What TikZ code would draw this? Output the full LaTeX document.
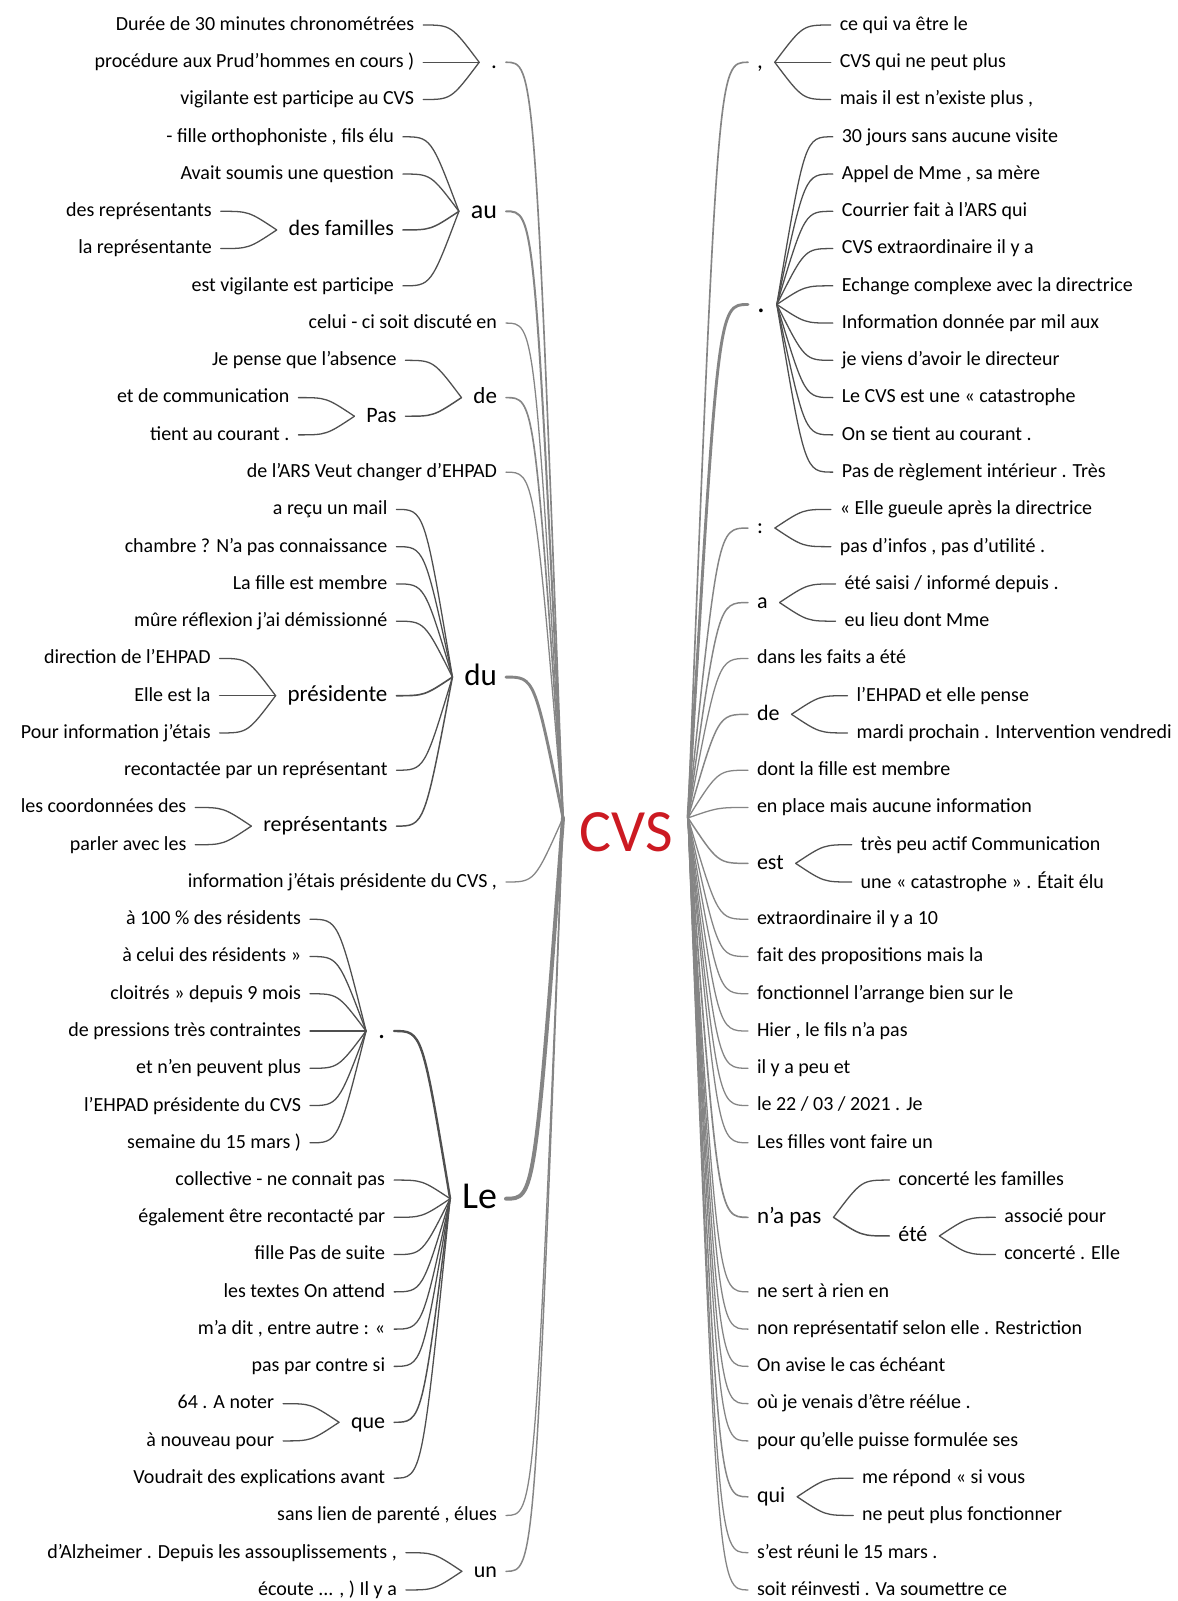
\documentclass[tikz,border=0pt]{standalone}
\usepackage{fontspec}
\setmainfont{Carlito}
\usetikzlibrary{calc}
\definecolor{cvsred}{HTML}{CC1A22}
\definecolor{rootgray}{HTML}{858585}
\definecolor{twiggray}{HTML}{4F4F4F}

\tikzset{
  wd/.style={inner sep=0pt, outer sep=0pt, font=\fontsize{#1}{#1}\selectfont,
             execute at begin node={\vphantom{dp}}},
  lw/.style={wd=#1, anchor=east}, lw/.default=20,
  rw/.style={wd=#1, anchor=west}, rw/.default=20,
  twig/.style={draw=twiggray, line width={(1.1+0.18*#1)*1pt}, line cap=round},
  trunk/.style={draw=rootgray, line width={(1.1+0.18*#1)*1pt}, line cap=round},
}

% child -> parent links (left side: child east to parent west; right side mirrored)
\newcommand\lnkL[3]{\draw[twig=#1] let \p1=([xshift=9pt]#2.east), \p2=([xshift=-12pt]#3.west) in (\p1) .. controls ({(\x1+\x2)/2},\y1) .. (\p2);}
\newcommand\lnkR[3]{\draw[twig=#1] let \p1=([xshift=-9pt]#2.west), \p2=([xshift=12pt]#3.east) in (\p1) .. controls ({(\x1+\x2)/2},\y1) .. (\p2);}
\newcommand\rtL[2]{\draw[trunk=#1] let \p1=([xshift=9pt]#2.east), \p2=(rootL) in (\p1) .. controls ({(\x1+\x2)/2},\y1) .. (\p2);}
\newcommand\rtR[2]{\draw[trunk=#1] let \p1=([xshift=-9pt]#2.west), \p2=(rootR) in (\p1) .. controls ({(\x1+\x2)/2},\y1) .. (\p2);}

\begin{document}
\begin{tikzpicture}[x=1pt, y=-37.26pt]
\fill[white] (0,-0.671) rectangle (1177,42.297);
\useasboundingbox (0,-0.671) rectangle (1177,42.297);

% ---------- root ----------
\node[wd=60, text=cvsred] (cvs) at (626,21.74) {CVS};
\coordinate (rootL) at (563,21.28);
\coordinate (rootR) at (688,21.28);

% ---------- left branches ----------
\node[lw=23] (la) at (497,1) {.};
\coordinate (lac) at ([xshift=-77pt]la.west);
\node[lw] (la1) at (lac |- 0,0) {Durée de 30 minutes chronométrées};
\node[lw] (la2) at (lac |- 0,1) {procédure aux Prud'hommes en cours )};
\node[lw] (la3) at (lac |- 0,2) {vigilante est participe au CVS};

\node[lw=26] (lb) at (497,5) {au};
\coordinate (lbc) at ([xshift=-77pt]lb.west);
\node[lw] (lb1) at (lbc |- 0,3) {- fille orthophoniste , fils élu};
\node[lw] (lb2) at (lbc |- 0,4) {Avait soumis une question};
\node[lw=22] (lb3) at (lbc |- 0,5.5) {des familles};
\coordinate (lb3c) at ([xshift=-77pt]lb3.west);
\node[lw] (lb3a) at (lb3c |- 0,5) {des représentants};
\node[lw] (lb3b) at (lb3c |- 0,6) {la représentante};
\node[lw] (lb4) at (lbc |- 0,7) {est vigilante est participe};

\node[lw] (lc) at (497,8) {celui - ci soit discuté en};

\node[lw=23] (ld) at (497,10) {de};
\coordinate (ldc) at ([xshift=-77pt]ld.west);
\node[lw] (ld1) at (ldc |- 0,9) {Je pense que l'absence};
\node[lw=22] (ld2) at (ldc |- 0,10.5) {Pas};
\coordinate (ld2c) at ([xshift=-77pt]ld2.west);
\node[lw] (ld2a) at (ld2c |- 0,10) {et de communication};
\node[lw] (ld2b) at (ld2c |- 0,11) {tient au courant .};

\node[lw] (le) at (497,12) {de l'ARS Veut changer d'EHPAD};

\node[lw=31] (lf) at (497,17.5) {du};
\coordinate (lfc) at ([xshift=-77pt]lf.west);
\node[lw] (lf1) at (lfc |- 0,13) {a reçu un mail};
\node[lw] (lf2) at (lfc |- 0,14) {chambre ? N'a pas connaissance};
\node[lw] (lf3) at (lfc |- 0,15) {La fille est membre};
\node[lw] (lf4) at (lfc |- 0,16) {mûre réflexion j'ai démissionné};
\node[lw=23] (lf5) at (lfc |- 0,18) {présidente};
\coordinate (lf5c) at ([xshift=-77pt]lf5.west);
\node[lw] (lf5a) at (lf5c |- 0,17) {direction de l'EHPAD};
\node[lw] (lf5b) at (lf5c |- 0,18) {Elle est la};
\node[lw] (lf5d) at (lf5c |- 0,19) {Pour information j'étais};
\node[lw] (lf6) at (lfc |- 0,20) {recontactée par un représentant};
\node[lw=22] (lf7) at (lfc |- 0,21.5) {représentants};
\coordinate (lf7c) at ([xshift=-77pt]lf7.west);
\node[lw] (lf7a) at (lf7c |- 0,21) {les coordonnées des};
\node[lw] (lf7b) at (lf7c |- 0,22) {parler avec les};

\node[lw] (lg) at (497,23) {information j'étais présidente du CVS ,};

\node[lw=38] (lh) at (497,31.5) {Le};
\coordinate (lhc) at ([xshift=-77pt]lh.west);
\node[lw=28] (lh1) at (lhc |- 0,27) {.};
\coordinate (lh1c) at ([xshift=-77pt]lh1.west);
\node[lw] (lh1a) at (lh1c |- 0,24) {à 100 \% des résidents};
\node[lw] (lh1b) at (lh1c |- 0,25) {à celui des résidents »};
\node[lw] (lh1d) at (lh1c |- 0,26) {cloitrés » depuis 9 mois};
\node[lw] (lh1e) at (lh1c |- 0,27) {de pressions très contraintes};
\node[lw] (lh1f) at (lh1c |- 0,28) {et n'en peuvent plus};
\node[lw] (lh1g) at (lh1c |- 0,29) {l'EHPAD présidente du CVS};
\node[lw] (lh1h) at (lh1c |- 0,30) {semaine du 15 mars )};
\node[lw] (lh2) at (lhc |- 0,31) {collective - ne connait pas};
\node[lw] (lh3) at (lhc |- 0,32) {également être recontacté par};
\node[lw] (lh4) at (lhc |- 0,33) {fille Pas de suite};
\node[lw] (lh5) at (lhc |- 0,34) {les textes On attend};
\node[lw] (lh6) at (lhc |- 0,35) {m'a dit , entre autre : «};
\node[lw] (lh7) at (lhc |- 0,36) {pas par contre si};
\node[lw=22] (lh8) at (lhc |- 0,37.5) {que};
\coordinate (lh8c) at ([xshift=-77pt]lh8.west);
\node[lw] (lh8a) at (lh8c |- 0,37) {64 . A noter};
\node[lw] (lh8b) at (lh8c |- 0,38) {à nouveau pour};
\node[lw] (lh9) at (lhc |- 0,39) {Voudrait des explications avant};

\node[lw] (li) at (497,40) {sans lien de parenté , élues};

\node[lw=22] (lj) at (497,41.5) {un};
\coordinate (ljc) at ([xshift=-77pt]lj.west);
\node[lw] (lj1) at (ljc |- 0,41) {d'Alzheimer . Depuis les assouplissements ,};
\node[lw] (lj2) at (ljc |- 0,42) {écoute ... , ) Il y a};

% ---------- right branches ----------
\node[rw=23] (ra) at (757,1) {,};
\coordinate (rac) at ([xshift=77pt]ra.east);
\node[rw] (ra1) at (rac |- 0,0) {ce qui va être le};
\node[rw] (ra2) at (rac |- 0,1) {CVS qui ne peut plus};
\node[rw] (ra3) at (rac |- 0,2) {mais il est n'existe plus ,};

\node[rw=31] (rb) at (757,7.5) {.};
\coordinate (rbc) at ([xshift=77pt]rb.east);
\node[rw] (rb1) at (rbc |- 0,3) {30 jours sans aucune visite};
\node[rw] (rb2) at (rbc |- 0,4) {Appel de Mme , sa mère};
\node[rw] (rb3) at (rbc |- 0,5) {Courrier fait à l'ARS qui};
\node[rw] (rb4) at (rbc |- 0,6) {CVS extraordinaire il y a};
\node[rw] (rb5) at (rbc |- 0,7) {Echange complexe avec la directrice};
\node[rw] (rb6) at (rbc |- 0,8) {Information donnée par mil aux};
\node[rw] (rb7) at (rbc |- 0,9) {je viens d'avoir le directeur};
\node[rw] (rb8) at (rbc |- 0,10) {Le CVS est une « catastrophe};
\node[rw] (rb9) at (rbc |- 0,11) {On se tient au courant .};
\node[rw] (rb10) at (rbc |- 0,12) {Pas de règlement intérieur . Très};

\node[rw=22] (rc) at (757,13.5) {:};
\coordinate (rcc) at ([xshift=77pt]rc.east);
\node[rw] (rc1) at (rcc |- 0,13) {« Elle gueule après la directrice};
\node[rw] (rc2) at (rcc |- 0,14) {pas d'infos , pas d'utilité .};

\node[rw=22] (rd) at (757,15.5) {a};
\coordinate (rdc) at ([xshift=77pt]rd.east);
\node[rw] (rd1) at (rdc |- 0,15) {été saisi / informé depuis .};
\node[rw] (rd2) at (rdc |- 0,16) {eu lieu dont Mme};

\node[rw] (re) at (757,17) {dans les faits a été};

\node[rw=22] (rf) at (757,18.5) {de};
\coordinate (rfc) at ([xshift=77pt]rf.east);
\node[rw] (rf1) at (rfc |- 0,18) {l'EHPAD et elle pense};
\node[rw] (rf2) at (rfc |- 0,19) {mardi prochain . Intervention vendredi};

\node[rw] (rg) at (757,20) {dont la fille est membre};
\node[rw] (rh) at (757,21) {en place mais aucune information};

\node[rw=22] (ri) at (757,22.5) {est};
\coordinate (ric) at ([xshift=77pt]ri.east);
\node[rw] (ri1) at (ric |- 0,22) {très peu actif Communication};
\node[rw] (ri2) at (ric |- 0,23) {une « catastrophe » . Était élu};

\node[rw] (rj) at (757,24) {extraordinaire il y a 10};
\node[rw] (rk) at (757,25) {fait des propositions mais la};
\node[rw] (rl) at (757,26) {fonctionnel l'arrange bien sur le};
\node[rw] (rm) at (757,27) {Hier , le fils n'a pas};
\node[rw] (rn) at (757,28) {il y a peu et};
\node[rw] (ro) at (757,29) {le 22 / 03 / 2021 . Je};
\node[rw] (rp) at (757,30) {Les filles vont faire un};

\node[rw=23] (rq) at (757,32) {n'a pas};
\coordinate (rqc) at ([xshift=77pt]rq.east);
\node[rw] (rq1) at (rqc |- 0,31) {concerté les familles};
\node[rw=22] (rq2) at (rqc |- 0,32.5) {été};
\coordinate (rq2c) at ([xshift=77pt]rq2.east);
\node[rw] (rq2a) at (rq2c |- 0,32) {associé pour};
\node[rw] (rq2b) at (rq2c |- 0,33) {concerté . Elle};

\node[rw] (rr) at (757,34) {ne sert à rien en};
\node[rw] (rs) at (757,35) {non représentatif selon elle . Restriction};
\node[rw] (rt) at (757,36) {On avise le cas échéant};
\node[rw] (ru) at (757,37) {où je venais d'être réélue .};
\node[rw] (rv) at (757,38) {pour qu'elle puisse formulée ses};

\node[rw=22] (rw) at (757,39.5) {qui};
\coordinate (rwc) at ([xshift=77pt]rw.east);
\node[rw] (rw1) at (rwc |- 0,39) {me répond « si vous};
\node[rw] (rw2) at (rwc |- 0,40) {ne peut plus fonctionner};

\node[rw] (rx) at (757,41) {s'est réuni le 15 mars .};
\node[rw] (ry) at (757,42) {soit réinvesti . Va soumettre ce};

% ---------- left links ----------
\foreach \c in {la1,la2,la3} {\lnkL{1}{\c}{la}}
\foreach \c in {lb1,lb2,lb4} {\lnkL{1}{\c}{lb}}
\lnkL{2}{lb3}{lb}
\foreach \c in {lb3a,lb3b} {\lnkL{1}{\c}{lb3}}
\lnkL{1}{ld1}{ld}
\lnkL{2}{ld2}{ld}
\foreach \c in {ld2a,ld2b} {\lnkL{1}{\c}{ld2}}
\foreach \c in {lf1,lf2,lf3,lf4,lf6} {\lnkL{1}{\c}{lf}}
\lnkL{3}{lf5}{lf}
\lnkL{2}{lf7}{lf}
\foreach \c in {lf5a,lf5b,lf5d} {\lnkL{1}{\c}{lf5}}
\foreach \c in {lf7a,lf7b} {\lnkL{1}{\c}{lf7}}
\lnkL{7}{lh1}{lh}
\foreach \c in {lh1a,lh1b,lh1d,lh1e,lh1f,lh1g,lh1h} {\lnkL{1}{\c}{lh1}}
\foreach \c in {lh2,lh3,lh4,lh5,lh6,lh7,lh9} {\lnkL{1}{\c}{lh}}
\lnkL{2}{lh8}{lh}
\foreach \c in {lh8a,lh8b} {\lnkL{1}{\c}{lh8}}
\foreach \c in {lj1,lj2} {\lnkL{1}{\c}{lj}}

\rtL{3}{la}
\rtL{5}{lb}
\rtL{1}{lc}
\rtL{3}{ld}
\rtL{1}{le}
\rtL{10}{lf}
\rtL{1}{lg}
\rtL{16}{lh}
\rtL{1}{li}
\rtL{2}{lj}

% ---------- right links ----------
\foreach \c in {ra1,ra2,ra3} {\lnkR{1}{\c}{ra}}
\foreach \c in {rb1,rb2,rb3,rb4,rb5,rb6,rb7,rb8,rb9,rb10} {\lnkR{1}{\c}{rb}}
\foreach \c in {rc1,rc2} {\lnkR{1}{\c}{rc}}
\foreach \c in {rd1,rd2} {\lnkR{1}{\c}{rd}}
\foreach \c in {rf1,rf2} {\lnkR{1}{\c}{rf}}
\foreach \c in {ri1,ri2} {\lnkR{1}{\c}{ri}}
\lnkR{1}{rq1}{rq}
\lnkR{2}{rq2}{rq}
\foreach \c in {rq2a,rq2b} {\lnkR{1}{\c}{rq2}}
\foreach \c in {rw1,rw2} {\lnkR{1}{\c}{rw}}

\rtR{3}{ra}
\rtR{10}{rb}
\rtR{2}{rc}
\rtR{2}{rd}
\rtR{2}{rf}
\rtR{2}{ri}
\rtR{3}{rq}
\rtR{2}{rw}
\foreach \c in {re,rg,rh,rj,rk,rl,rm,rn,ro,rp,rr,rs,rt,ru,rv,rx,ry} {\rtR{1}{\c}}
\end{tikzpicture}
\end{document}
